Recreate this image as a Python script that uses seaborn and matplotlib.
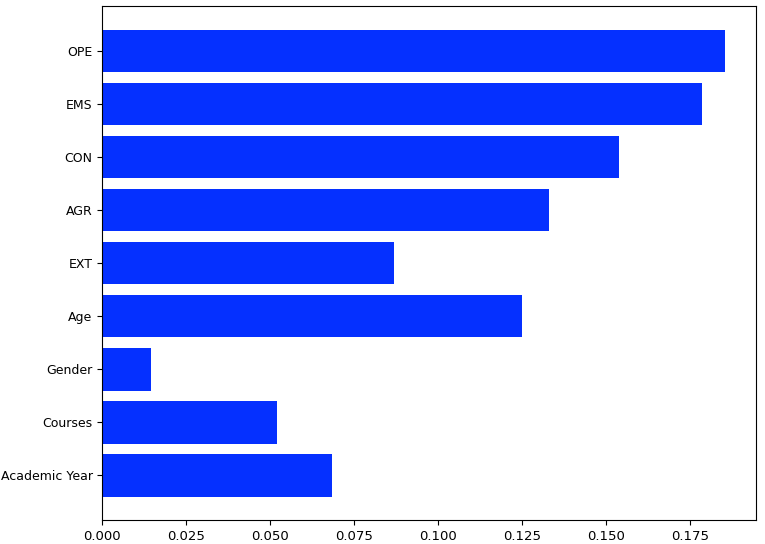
import seaborn as sns
import matplotlib.pyplot as plt
import pandas as pd
from matplotlib.ticker import FormatStrFormatter

# Valori (importanza delle variabili)
features = ["OPE", "EMS", "CON", "AGR", "EXT", "Age", "Gender", "Courses", "Academic Year"]
importance = [0.1855, 0.1786, 0.1538, 0.1330, 0.0869, 0.1250, 0.0145, 0.0519, 0.0684]
xticks = [0.000, 0.025, 0.050, 0.075, 0.100, 0.125, 0.150, 0.175]

df = pd.DataFrame({"feature": features, "importance": importance})

fig = plt.figure(figsize=(7.65, 5.44), dpi=100)
ax = fig.add_axes([0.1337, 0.0441, 0.854, 0.9454])

# Barre orizzontali blu
sns.barplot(data=df, x="importance", y="feature", order=features, orient="h",
            color="#0530ff", saturation=1, width=0.8, linewidth=0, ax=ax)

ax.set_xlim(0, 0.1946)
ax.set_ylim(len(features) - 1 + 0.84, -0.85)
ax.set_xticks(xticks)
ax.xaxis.set_major_formatter(FormatStrFormatter("%.3f"))
ax.set_xlabel("")
ax.set_ylabel("")
ax.tick_params(axis="x", labelsize=9.5)
ax.tick_params(axis="y", labelsize=9)

plt.savefig("out.png", dpi=100)
